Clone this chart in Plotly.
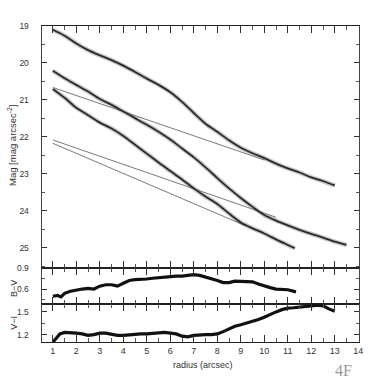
import plotly.graph_objects as go

# ---------------- data ----------------
r_A = [1.0, 1.5, 2.0, 2.5, 3.0, 3.5, 4.0, 4.5, 5.0, 5.5, 6.0, 6.5, 7.0, 7.5, 8.0,
       8.5, 9.0, 9.5, 10.0, 10.5, 11.0, 11.5, 12.0, 12.5, 13.0]
mag_A = [19.11, 19.27, 19.48, 19.66, 19.80, 19.93, 20.08, 20.25, 20.43, 20.60, 20.80,
         21.06, 21.36, 21.65, 21.87, 22.10, 22.30, 22.45, 22.58, 22.73, 22.86, 22.97,
         23.10, 23.20, 23.32]

r_B = [1.0, 1.5, 2.0, 2.5, 3.0, 3.5, 4.0, 4.5, 5.0, 5.5, 6.0, 6.5, 7.0, 7.5, 8.0,
       8.5, 9.0, 9.5, 10.0, 10.5, 11.0, 11.5, 12.0, 12.5, 13.0, 13.5]
mag_B = [20.22, 20.42, 20.60, 20.78, 20.98, 21.14, 21.32, 21.50, 21.68, 21.87, 22.08,
         22.32, 22.56, 22.83, 23.12, 23.40, 23.66, 23.90, 24.12, 24.27, 24.40, 24.52,
         24.63, 24.73, 24.84, 24.93]

r_C = [1.0, 1.5, 2.0, 2.5, 3.0, 3.5, 4.0, 4.5, 5.0, 5.5, 6.0, 6.5, 7.0, 7.5, 8.0,
       8.5, 9.0, 9.5, 10.0, 10.5, 11.0, 11.3]
mag_C = [20.71, 20.95, 21.22, 21.42, 21.62, 21.78, 21.98, 22.22, 22.46, 22.70, 22.93,
         23.16, 23.40, 23.62, 23.82, 24.08, 24.32, 24.48, 24.62, 24.78, 24.93, 25.02]

fitA_r = [1.0, 10.0]
fitA_mag = [20.67, 22.63]
fitB_r = [1.0, 10.5]
fitB_mag = [22.09, 24.18]
fitC_r = [1.0, 9.2]
fitC_mag = [22.18, 24.41]

r_BV = [1.0, 1.2, 1.35, 1.5, 1.75, 2.0, 2.25, 2.5, 2.75, 3.0, 3.25, 3.5, 3.75, 4.0,
        4.25, 4.5, 4.75, 5.0, 5.25, 5.5, 5.75, 6.0, 6.25, 6.5, 6.75, 7.0, 7.25, 7.5,
        7.75, 8.0, 8.25, 8.5, 8.75, 9.0, 9.25, 9.5, 9.75, 10.0, 10.25, 10.5, 10.75,
        11.0, 11.35]
BV = [0.50, 0.51, 0.49, 0.54, 0.57, 0.59, 0.60, 0.61, 0.60, 0.64, 0.66, 0.66, 0.64,
      0.68, 0.72, 0.73, 0.73, 0.74, 0.75, 0.76, 0.76, 0.77, 0.78, 0.78, 0.79, 0.80,
      0.79, 0.77, 0.75, 0.72, 0.69, 0.69, 0.71, 0.71, 0.71, 0.70, 0.67, 0.64, 0.62,
      0.60, 0.60, 0.59, 0.56]

r_VI = [1.0, 1.1, 1.2, 1.3, 1.5, 1.75, 2.0, 2.25, 2.5, 2.75, 3.0, 3.25, 3.5, 3.75,
        4.0, 4.25, 4.5, 4.75, 5.0, 5.25, 5.5, 5.75, 6.0, 6.25, 6.5, 6.75, 7.0, 7.25,
        7.5, 7.75, 8.0, 8.25, 8.5, 8.75, 9.0, 9.25, 9.5, 9.75, 10.0, 10.25, 10.5,
        10.75, 11.0, 11.25, 11.5, 11.75, 12.0, 12.25, 12.5, 12.75, 13.0]
VI = [1.10, 1.14, 1.18, 1.21, 1.23, 1.23, 1.22, 1.21, 1.19, 1.20, 1.22, 1.22, 1.20,
      1.19, 1.19, 1.20, 1.20, 1.21, 1.21, 1.22, 1.22, 1.23, 1.22, 1.21, 1.18, 1.17,
      1.19, 1.20, 1.20, 1.20, 1.21, 1.24, 1.28, 1.31, 1.33, 1.35, 1.37, 1.40, 1.43,
      1.47, 1.50, 1.53, 1.55, 1.555, 1.56, 1.57, 1.58, 1.59, 1.58, 1.54, 1.51]

# ---------------- figure ----------------
fig = go.Figure()

for rr, mm in [(r_A, mag_A), (r_B, mag_B), (r_C, mag_C)]:
    fig.add_trace(go.Scatter(x=rr, y=mm, mode='lines',
                             line=dict(color='#c8c8c8', width=4.5, shape='spline', smoothing=0.8),
                             xaxis='x', yaxis='y', hoverinfo='skip'))
for rr, mm in [(fitA_r, fitA_mag), (fitB_r, fitB_mag), (fitC_r, fitC_mag)]:
    fig.add_trace(go.Scatter(x=rr, y=mm, mode='lines', line=dict(color='#6a6a6a', width=0.9),
                             xaxis='x', yaxis='y'))
for rr, mm in [(r_A, mag_A), (r_B, mag_B), (r_C, mag_C)]:
    fig.add_trace(go.Scatter(x=rr, y=mm, mode='lines',
                             line=dict(color='#2a2a2a', width=1.8, shape='spline', smoothing=0.8),
                             xaxis='x', yaxis='y'))

fig.add_trace(go.Scatter(x=r_BV, y=BV, mode='lines', line=dict(color='#111', width=3.2),
                         xaxis='x2', yaxis='y2'))
fig.add_trace(go.Scatter(x=r_VI, y=VI, mode='lines', line=dict(color='#111', width=3.2),
                         xaxis='x3', yaxis='y3'))

W = 382.0
xdom = [42 / W, 363 / W]
d_main = [1 - 266 / W, 1 - 21 / W]
d_bv = [1 - 303.3 / W, 1 - 266 / W]
d_vi = [1 - 341.7 / W, 1 - 303.3 / W]

tickfont = dict(family='Liberation Sans, Arial, sans-serif', size=9, color='#333')
ytickfont = dict(family='Liberation Sans, Arial, sans-serif', size=8.5, color='#333')

def xax(anchor, labels):
    return dict(domain=xdom, range=[0.52, 14.04], anchor=anchor, dtick=1,
                ticks='inside', ticklen=7, tickwidth=1, tickcolor='#333',
                minor=dict(ticks='inside', dtick=0.5, ticklen=4, tickcolor='#555', tickwidth=1),
                showticklabels=labels, tickfont=tickfont,
                showline=True, linecolor='#222', linewidth=1, mirror='allticks')

def yax(anchor, dom, rng, dtick, mdtick, tl=5):
    return dict(domain=dom, range=rng, anchor=anchor, dtick=dtick,
                ticks='inside', ticklen=tl, tickwidth=1, tickcolor='#333',
                minor=dict(ticks='inside', dtick=mdtick, ticklen=3, tickcolor='#555', tickwidth=1),
                tickfont=ytickfont, ticklabelstandoff=10,
                showline=True, linecolor='#444', linewidth=1, mirror='allticks')

fig.update_layout(
    width=382, height=382,
    margin=dict(l=0, r=0, t=0, b=0),
    paper_bgcolor='white', plot_bgcolor='white',
    showlegend=False,
    xaxis=xax('y', False),
    xaxis2=xax('y2', False),
    xaxis3=xax('y3', True),
    yaxis=yax('x', d_main, [25.54, 19.0], 1, 0.5),
    yaxis2=yax('x2', d_bv, [0.387, 0.9], 0.3, 0.15),
    yaxis3=yax('x3', d_vi, [1.1, 1.6], 0.3, 0.15),
)

labfont = dict(family='Liberation Sans, Arial, sans-serif', size=9, color='#333')
fig.add_annotation(text='radius (arcsec)', x=205 / W, y=1 - 365 / W, xref='paper', yref='paper',
                   showarrow=False, font=labfont, xanchor='center', yanchor='middle')
fig.add_annotation(text='Mag [mag arcsec<sup>-2</sup>]', x=12 / W, y=1 - 142 / W, xref='paper',
                   yref='paper', showarrow=False, textangle=-90,
                   font=dict(family='Liberation Sans, Arial, sans-serif', size=9.5, color='#333'),
                   xanchor='center', yanchor='middle')
fig.add_annotation(text='B\u2212V', x=14 / W, y=1 - 287 / W, xref='paper', yref='paper',
                   showarrow=False, textangle=-90, font=labfont, xanchor='center', yanchor='middle')
fig.add_annotation(text='V\u2212I', x=14 / W, y=1 - 322 / W, xref='paper', yref='paper',
                   showarrow=False, textangle=-90, font=labfont, xanchor='center', yanchor='middle')
fig.add_annotation(text='4F', x=347 / W, y=1 - 370 / W, xref='paper', yref='paper',
                   showarrow=False, font=dict(family='Liberation Serif, serif', size=16, color='#9a9a9a'),
                   xanchor='center', yanchor='middle')

fig.write_html('out.html', config={'displayModeBar': False},
               post_script="document.body.style.margin='0px';document.body.style.overflow='hidden';")
